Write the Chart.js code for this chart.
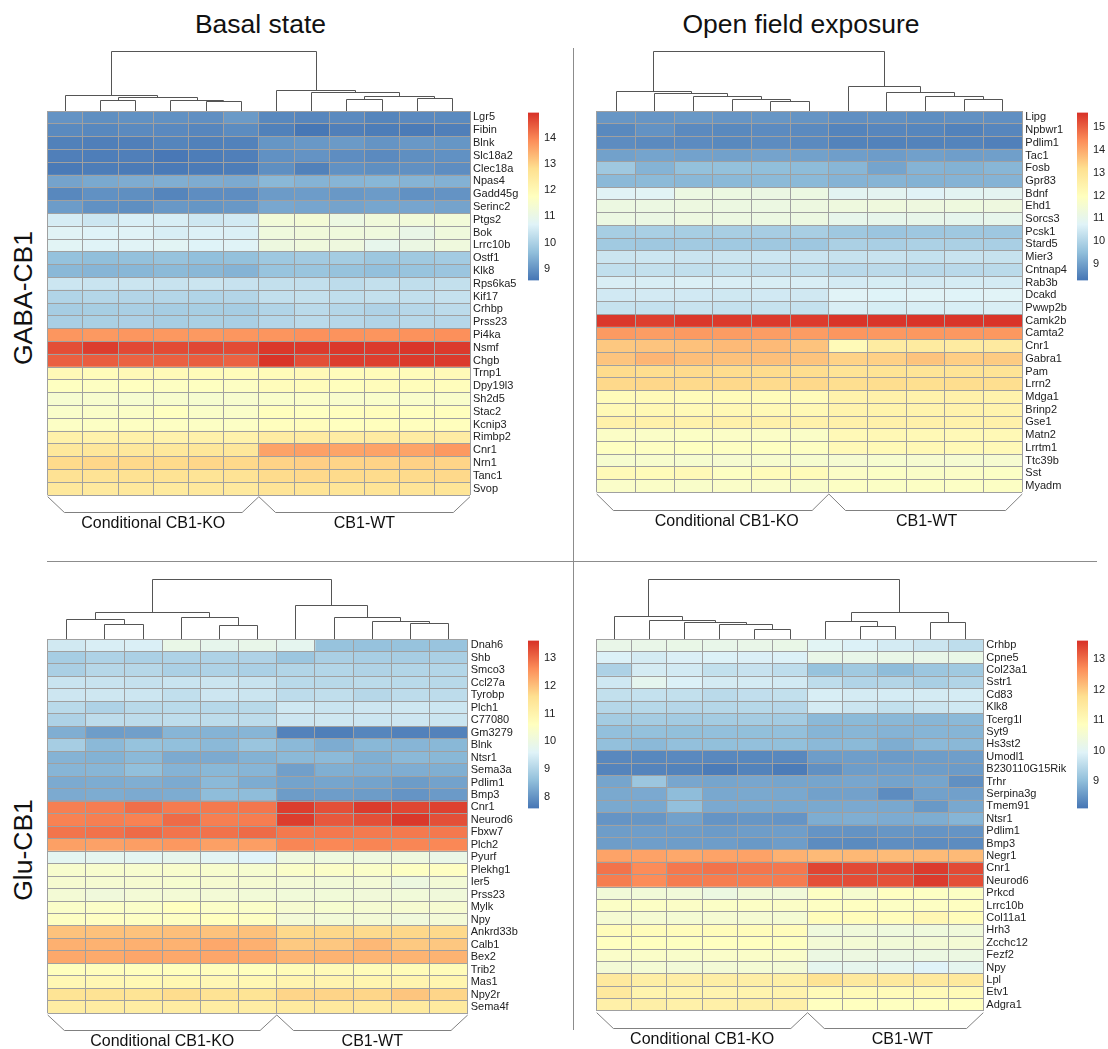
<!DOCTYPE html>
<html>
<head>
<meta charset="utf-8">
<title>CB1 expression heatmaps</title>
<script src="https://cdn.jsdelivr.net/npm/chart.js@4.4.1/dist/chart.umd.min.js"></script>
<style>
  html, body { margin: 0; padding: 0; background: #ffffff; }
  body { width: 1108px; height: 1049px; position: relative; overflow: hidden;
         font-family: "Liberation Sans", Arial, sans-serif; color: #111; }
  canvas { position: absolute; }
  .title { position: absolute; top: 11px; font-size: 26.5px; line-height: 1; white-space: nowrap;
           transform: translateX(-50%); }
  .side { position: absolute; font-size: 26.5px; line-height: 1; white-space: nowrap;
          transform: translate(-50%, -50%) rotate(-90deg); }
  .rule { position: absolute; background: #8c8c8c; }
</style>
</head>
<body>
<div class="title" style="left:260.5px">Basal state</div>
<div class="title" style="left:801px">Open field exposure</div>
<div class="side" style="left:23px; top:298px">GABA-CB1</div>
<div class="side" style="left:23px; top:850px">Glu-CB1</div>
<div class="rule" style="left:573px; top:48px; width:1px; height:982px"></div>
<div class="rule" style="left:47px; top:561px; width:1050px; height:1px"></div>

<canvas id="hm-tl"></canvas><canvas id="cb-tl"></canvas>
<canvas id="hm-tr"></canvas><canvas id="cb-tr"></canvas>
<canvas id="hm-bl"></canvas><canvas id="cb-bl"></canvas>
<canvas id="hm-br"></canvas><canvas id="cb-br"></canvas>

<script>
// ---------- shared ----------
const groupNames = ['Conditional CB1-KO', 'CB1-WT'];
const palette = ['#4575B4', '#91BFDB', '#E0F3F8', '#FFFFBF', '#FEE090', '#FC8D59', '#D73027'];

// ---------- GABA-CB1, basal state ----------
const basalGabaGenes = ['Lgr5','Fibin','Blnk','Slc18a2','Clec18a','Npas4','Gadd45g','Serinc2','Ptgs2','Bok',
  'Lrrc10b','Ostf1','Klk8','Rps6ka5','Kif17','Crhbp','Prss23','Pi4ka','Nsmf','Chgb',
  'Trnp1','Dpy19l3','Sh2d5','Stac2','Kcnip3','Rimbp2','Cnr1','Nrn1','Tanc1','Svop'];
const basalGabaGroupSizes = [6, 6];
const basalGabaValues = [
  [8.98, 8.92, 8.95, 8.95, 8.93, 9.08, 8.82, 8.80, 8.86, 8.78, 8.84, 8.85],
  [8.85, 8.82, 8.86, 8.84, 8.80, 8.88, 8.72, 8.58, 8.70, 8.66, 8.64, 8.70],
  [8.72, 8.70, 8.70, 8.78, 8.72, 8.74, 9.02, 9.05, 9.08, 9.00, 9.05, 9.02],
  [8.70, 8.68, 8.70, 8.60, 8.66, 8.70, 8.95, 8.98, 8.90, 8.86, 8.92, 8.95],
  [8.62, 8.66, 8.64, 8.62, 8.64, 8.66, 8.92, 8.72, 8.95, 8.92, 8.94, 8.90],
  [9.22, 9.30, 9.35, 9.38, 9.35, 9.32, 9.52, 9.45, 9.48, 9.50, 9.46, 9.42],
  [8.82, 8.95, 8.92, 8.78, 8.90, 8.90, 9.10, 9.12, 9.05, 9.10, 8.95, 8.98],
  [9.12, 8.95, 8.92, 9.05, 9.02, 9.05, 9.28, 9.25, 9.22, 9.26, 9.25, 9.22],
  [10.55, 10.42, 10.60, 10.58, 10.45, 10.50, 11.30, 11.35, 11.10, 11.25, 11.28, 11.30],
  [10.72, 10.68, 10.70, 10.58, 10.65, 10.62, 11.20, 11.25, 11.22, 11.20, 11.00, 11.22],
  [10.75, 10.70, 10.72, 10.76, 10.68, 10.70, 11.15, 11.22, 11.18, 10.92, 11.08, 11.20],
  [9.68, 9.62, 9.66, 9.70, 9.64, 9.66, 9.80, 9.85, 9.88, 9.78, 9.82, 9.86],
  [9.52, 9.48, 9.50, 9.55, 9.52, 9.45, 9.72, 9.74, 9.70, 9.65, 9.72, 9.75],
  [10.42, 10.38, 10.40, 10.36, 10.40, 10.35, 10.30, 10.28, 10.22, 10.30, 10.26, 10.30],
  [10.05, 10.10, 10.08, 10.10, 10.06, 10.08, 10.28, 10.30, 10.26, 10.30, 10.28, 10.32],
  [9.90, 9.92, 9.95, 9.90, 9.92, 9.90, 10.05, 10.18, 10.10, 10.02, 10.12, 10.20],
  [9.95, 9.96, 9.98, 9.92, 9.96, 9.94, 10.10, 10.18, 10.12, 10.06, 10.14, 10.12],
  [13.78, 13.75, 13.78, 13.76, 13.75, 13.78, 13.80, 13.85, 13.82, 13.80, 13.84, 13.86],
  [14.62, 14.82, 14.68, 14.66, 14.70, 14.66, 14.88, 14.86, 14.88, 14.84, 14.90, 14.86],
  [14.42, 14.45, 14.40, 14.42, 14.45, 14.40, 14.92, 14.62, 14.82, 14.80, 14.86, 14.84],
  [11.95, 11.88, 11.95, 11.92, 11.90, 11.88, 11.90, 11.95, 11.86, 11.90, 11.88, 11.92],
  [11.72, 11.70, 11.75, 11.70, 11.72, 11.68, 11.85, 11.88, 11.80, 11.86, 11.84, 11.82],
  [11.45, 11.48, 11.45, 11.50, 11.46, 11.48, 11.55, 11.58, 11.52, 11.56, 11.54, 11.55],
  [11.55, 11.60, 11.62, 11.75, 11.60, 11.58, 11.80, 11.72, 11.78, 11.82, 11.76, 11.80],
  [11.65, 11.66, 11.70, 11.68, 11.66, 11.65, 11.78, 11.82, 11.76, 11.80, 11.78, 11.80],
  [12.25, 12.22, 12.25, 12.20, 12.24, 12.22, 12.42, 12.45, 12.40, 12.45, 12.42, 12.40],
  [12.55, 12.58, 12.56, 12.55, 12.60, 12.58, 13.62, 13.65, 13.60, 13.62, 13.60, 13.75],
  [12.90, 12.95, 12.92, 12.90, 12.95, 12.92, 13.00, 13.05, 12.98, 13.00, 13.02, 12.98],
  [12.75, 12.72, 12.76, 12.74, 12.70, 12.72, 12.88, 12.92, 12.90, 12.88, 12.90, 12.92],
  [12.55, 12.52, 12.56, 12.50, 12.55, 12.52, 12.68, 12.70, 12.66, 12.70, 12.68, 12.66]
];
const basalGabaRange = [8.55, 14.97];
const basalGabaTicks = [9, 10, 11, 12, 13, 14];
// sample clustering: [left, right, height]; negative = sample number, positive = earlier merge
const basalGabaTree = [
  [-2, -3, 1.03], [-5, -6, 0.93], [-4, 2, 1.10], [1, 3, 1.37], [-1, 4, 1.60],
  [-9, -10, 1.17], [-11, -12, 1.27], [6, 7, 1.50], [-8, 8, 1.87], [-7, 9, 2.10],
  [5, 10, 6.00]
];

// ---------- GABA-CB1, open field exposure ----------
const openGabaGenes = ['Lipg','Npbwr1','Pdlim1','Tac1','Fosb','Gpr83','Bdnf','Ehd1','Sorcs3','Pcsk1',
  'Stard5','Mier3','Cntnap4','Rab3b','Dcakd','Pwwp2b','Camk2b','Camta2','Cnr1','Gabra1',
  'Pam','Lrrn2','Mdga1','Brinp2','Gse1','Matn2','Lrrtm1','Ttc39b','Sst','Myadm'];
const openGabaGroupSizes = [6, 5];
const openGabaValues = [
  [8.82, 8.80, 8.85, 8.80, 8.82, 8.78, 8.70, 8.72, 8.68, 8.72, 8.70],
  [8.60, 8.75, 8.62, 8.60, 8.64, 8.62, 8.52, 8.56, 8.55, 8.48, 8.56],
  [8.66, 8.62, 8.64, 8.60, 8.66, 8.62, 8.50, 8.48, 8.50, 8.52, 8.46],
  [9.00, 9.05, 9.02, 9.00, 9.04, 9.00, 8.95, 8.92, 8.98, 8.95, 8.96],
  [9.72, 9.30, 9.55, 9.55, 9.50, 9.45, 9.35, 9.05, 9.30, 9.28, 9.35],
  [9.40, 9.42, 9.38, 9.40, 9.42, 9.40, 9.30, 9.32, 9.28, 9.30, 9.30],
  [10.78, 10.80, 11.20, 11.22, 11.18, 11.20, 10.85, 10.88, 10.75, 10.85, 10.88],
  [11.22, 11.20, 11.25, 11.22, 11.20, 11.24, 11.30, 11.32, 11.28, 11.30, 11.28],
  [11.20, 11.18, 11.24, 11.22, 11.20, 11.22, 11.02, 11.00, 11.05, 10.98, 11.02],
  [9.85, 9.88, 9.85, 9.86, 9.84, 9.86, 9.72, 9.65, 9.70, 9.72, 9.70],
  [9.75, 9.72, 9.76, 9.74, 9.72, 9.70, 9.90, 9.88, 9.92, 9.90, 9.88],
  [10.40, 10.42, 10.38, 10.40, 10.42, 10.38, 10.32, 10.35, 10.30, 10.35, 10.32],
  [10.25, 10.28, 10.25, 10.30, 10.26, 10.25, 10.12, 10.15, 10.10, 10.12, 10.14],
  [10.62, 10.60, 10.65, 10.62, 10.60, 10.62, 10.55, 10.58, 10.52, 10.56, 10.55],
  [10.50, 10.52, 10.50, 10.46, 10.50, 10.48, 10.75, 10.72, 10.76, 10.74, 10.75],
  [10.32, 10.30, 10.35, 10.30, 10.32, 10.30, 10.62, 10.58, 10.60, 10.60, 10.62],
  [15.55, 15.45, 15.55, 15.52, 15.52, 15.50, 15.60, 15.58, 15.60, 15.58, 15.60],
  [14.22, 14.18, 14.22, 14.20, 14.18, 14.20, 14.28, 14.25, 14.26, 14.25, 14.26],
  [13.55, 13.60, 13.65, 13.75, 13.75, 13.62, 12.15, 12.72, 12.76, 12.74, 12.78],
  [13.60, 13.82, 13.70, 13.65, 13.68, 13.62, 13.40, 13.42, 13.62, 13.45, 13.50],
  [13.25, 13.22, 13.26, 13.24, 13.25, 13.22, 13.02, 13.05, 13.00, 13.02, 13.04],
  [13.30, 13.32, 13.28, 13.30, 13.26, 13.30, 13.20, 13.22, 13.18, 13.22, 13.20],
  [12.10, 12.15, 12.10, 12.12, 12.08, 12.10, 12.45, 12.50, 12.48, 12.50, 12.45],
  [12.20, 12.25, 12.18, 12.22, 12.20, 12.22, 12.42, 12.45, 12.44, 12.46, 12.42],
  [12.50, 12.52, 12.48, 12.50, 12.52, 12.48, 12.50, 12.52, 12.50, 12.48, 12.52],
  [11.80, 11.78, 11.82, 11.80, 11.80, 11.78, 12.18, 12.22, 12.20, 12.18, 12.20],
  [11.92, 11.90, 11.94, 11.90, 11.92, 11.90, 12.18, 12.20, 12.22, 12.20, 12.18],
  [11.62, 11.65, 11.62, 11.60, 11.64, 11.62, 11.58, 11.62, 11.60, 11.58, 11.60],
  [12.15, 12.12, 12.18, 11.90, 12.10, 12.12, 11.80, 11.82, 11.78, 11.80, 11.82],
  [11.75, 11.78, 11.74, 11.76, 11.75, 11.74, 11.85, 11.82, 11.86, 11.84, 11.85]
];
const openGabaRange = [8.27, 15.65];
const openGabaTicks = [9, 10, 11, 12, 13, 14, 15];
const openGabaTree = [
  [-5, -6, 0.93], [-4, 1, 1.17], [-3, 2, 1.50], [-2, 3, 1.77], [-1, 4, 1.93],
  [-10, -11, 1.17], [-9, 6, 1.43], [-8, 7, 1.83], [-7, 8, 2.43], [5, 9, 6.00]
];

// ---------- Glu-CB1, basal state ----------
const basalGluGenes = ['Dnah6','Shb','Smco3','Ccl27a','Tyrobp','Plch1','C77080','Gm3279','Blnk','Ntsr1',
  'Sema3a','Pdlim1','Bmp3','Cnr1','Neurod6','Fbxw7','Plch2','Pyurf','Plekhg1','Ier5',
  'Prss23','Mylk','Npy','Ankrd33b','Calb1','Bex2','Trib2','Mas1','Npy2r','Sema4f'];
const basalGluGroupSizes = [6, 5];
const basalGluValues = [
  [9.40, 9.50, 9.52, 9.90, 9.80, 9.86, 9.75, 8.66, 8.64, 8.66, 8.68],
  [8.85, 8.95, 8.92, 8.95, 8.95, 8.96, 8.72, 8.90, 8.88, 8.86, 8.90],
  [8.90, 9.05, 9.05, 8.92, 8.95, 8.92, 9.00, 9.02, 8.98, 9.00, 9.02],
  [9.30, 9.28, 9.25, 9.30, 9.32, 9.28, 9.10, 9.08, 9.12, 9.10, 9.08],
  [9.35, 9.36, 9.34, 9.20, 9.35, 9.32, 9.15, 9.18, 9.05, 9.15, 9.15],
  [9.10, 8.95, 9.08, 9.10, 9.06, 9.08, 9.38, 9.30, 9.35, 9.36, 9.34],
  [8.95, 9.15, 9.14, 9.16, 9.14, 9.15, 9.35, 9.36, 9.34, 9.35, 9.32],
  [8.35, 8.12, 8.15, 8.45, 8.42, 8.45, 7.75, 7.70, 7.80, 7.74, 7.75],
  [8.85, 8.50, 8.65, 8.60, 8.50, 8.70, 8.50, 8.32, 8.48, 8.45, 8.48],
  [8.42, 8.40, 8.50, 8.30, 8.30, 8.40, 8.50, 8.52, 8.36, 8.50, 8.48],
  [8.45, 8.46, 8.60, 8.42, 8.48, 8.45, 8.15, 8.36, 8.35, 8.34, 8.36],
  [8.30, 8.32, 8.35, 8.30, 8.50, 8.32, 8.20, 8.22, 8.20, 8.10, 8.18],
  [8.30, 8.32, 8.30, 8.32, 8.55, 8.55, 8.10, 8.12, 8.10, 8.00, 8.08],
  [12.78, 12.80, 12.95, 12.82, 12.85, 12.88, 13.50, 13.30, 13.52, 13.40, 13.45],
  [12.75, 12.78, 12.75, 13.00, 12.78, 12.80, 13.50, 13.20, 13.30, 13.55, 13.30],
  [12.90, 12.92, 13.00, 12.90, 12.92, 13.00, 12.85, 12.86, 12.84, 12.85, 12.86],
  [12.40, 12.38, 12.42, 12.50, 12.40, 12.42, 12.70, 12.68, 12.72, 12.70, 12.68],
  [9.72, 9.75, 9.72, 9.80, 9.68, 9.60, 10.05, 10.06, 10.04, 10.05, 9.92],
  [10.35, 10.36, 10.34, 10.38, 10.35, 10.32, 10.45, 10.46, 10.44, 10.55, 10.56],
  [10.30, 10.28, 10.30, 10.32, 10.30, 10.28, 10.20, 10.18, 10.20, 10.02, 10.22],
  [10.22, 10.10, 10.20, 10.22, 10.20, 10.18, 10.15, 10.16, 10.14, 10.15, 10.12],
  [10.45, 10.46, 10.44, 10.60, 10.46, 10.45, 10.30, 10.32, 10.28, 10.30, 10.30],
  [10.55, 10.56, 10.54, 10.55, 10.62, 10.55, 10.20, 10.18, 10.22, 10.10, 10.20],
  [11.98, 12.00, 11.98, 12.02, 11.98, 12.00, 11.70, 11.72, 11.68, 11.72, 11.70],
  [12.20, 12.18, 12.20, 12.18, 12.30, 12.20, 11.90, 11.92, 12.10, 11.90, 11.92],
  [12.30, 12.28, 12.32, 12.30, 12.32, 12.30, 12.15, 12.16, 12.14, 12.15, 12.16],
  [10.65, 10.66, 10.64, 10.65, 10.66, 10.64, 10.75, 10.76, 10.74, 10.75, 10.74],
  [10.85, 10.86, 10.84, 10.88, 10.85, 10.86, 10.95, 10.96, 10.94, 10.95, 10.94],
  [11.50, 11.52, 11.50, 11.65, 11.52, 11.50, 11.75, 11.76, 11.74, 11.95, 11.75],
  [11.20, 11.22, 11.20, 11.22, 11.20, 11.18, 11.30, 11.32, 11.28, 11.30, 11.30]
];
const basalGluRange = [7.57, 13.64];
const basalGluTicks = [8, 9, 10, 11, 12, 13];
const basalGluTree = [
  [-2, -3, 1.50], [-1, 1, 1.97], [-5, -6, 1.40], [-4, 3, 2.13], [2, 4, 2.63],
  [-10, -11, 1.57], [-9, 6, 1.73], [-8, 7, 2.17], [-7, 8, 3.40], [5, 9, 6.00]
];

// ---------- Glu-CB1, open field exposure ----------
const openGluGenes = ['Crhbp','Cpne5','Col23a1','Sstr1','Cd83','Klk8','Tcerg1l','Syt9','Hs3st2','Umodl1',
  'B230110G15Rik','Trhr','Serpina3g','Tmem91','Ntsr1','Pdlim1','Bmp3','Negr1','Cnr1','Neurod6',
  'Prkcd','Lrrc10b','Col11a1','Hrh3','Zcchc12','Fezf2','Npy','Lpl','Etv1','Adgra1'];
const openGluGroupSizes = [6, 5];
const openGluValues = [
  [10.20, 10.20, 10.22, 10.18, 10.20, 10.22, 10.00, 9.90, 9.80, 9.70, 9.55],
  [9.90, 9.80, 9.88, 9.90, 9.88, 9.90, 10.20, 10.18, 10.22, 10.20, 10.22],
  [9.35, 9.80, 9.78, 9.60, 9.65, 9.55, 9.10, 9.20, 9.00, 9.15, 9.20],
  [9.75, 10.10, 9.90, 9.80, 9.80, 9.78, 9.55, 9.40, 9.42, 9.30, 9.40],
  [9.60, 9.62, 9.60, 9.50, 9.58, 9.60, 9.85, 9.80, 9.82, 9.80, 9.82],
  [9.45, 9.46, 9.44, 9.45, 9.46, 9.44, 9.80, 9.70, 9.60, 9.70, 9.75],
  [9.25, 9.26, 9.24, 9.25, 9.26, 9.24, 8.95, 8.96, 8.94, 8.92, 8.95],
  [9.05, 9.06, 9.04, 9.05, 9.04, 9.05, 8.90, 8.92, 8.88, 8.90, 8.90],
  [9.05, 8.95, 9.05, 9.04, 9.05, 9.04, 8.95, 8.96, 8.80, 8.95, 8.94],
  [8.35, 8.34, 8.36, 8.35, 8.34, 8.35, 8.60, 8.62, 8.58, 8.60, 8.62],
  [8.30, 8.30, 8.28, 8.20, 8.28, 8.20, 8.45, 8.60, 8.62, 8.60, 8.58],
  [8.70, 9.15, 8.72, 8.70, 8.72, 8.70, 8.70, 8.72, 8.68, 8.70, 8.45],
  [8.75, 8.76, 9.00, 8.74, 8.75, 8.74, 8.65, 8.66, 8.40, 8.65, 8.64],
  [8.75, 8.74, 9.05, 8.76, 8.75, 8.74, 8.75, 8.76, 8.74, 8.55, 8.74],
  [8.50, 8.52, 8.65, 8.50, 8.52, 8.50, 8.80, 8.82, 8.78, 8.80, 8.90],
  [8.60, 8.62, 8.60, 8.58, 8.60, 8.62, 8.50, 8.48, 8.52, 8.50, 8.50],
  [8.60, 8.62, 8.60, 8.60, 8.55, 8.60, 8.40, 8.38, 8.42, 8.40, 8.40],
  [12.45, 12.46, 12.40, 12.45, 12.46, 12.30, 12.20, 12.22, 12.18, 12.20, 12.20],
  [12.95, 12.70, 12.90, 12.95, 12.92, 12.90, 13.40, 13.35, 13.38, 13.50, 13.35],
  [12.85, 12.70, 12.86, 12.85, 12.84, 12.86, 13.30, 13.32, 13.28, 13.50, 13.30],
  [10.45, 10.46, 10.44, 10.30, 10.45, 10.44, 10.80, 10.60, 10.82, 10.80, 10.78],
  [10.75, 10.76, 10.74, 10.75, 10.76, 10.74, 10.80, 10.82, 10.78, 10.80, 10.82],
  [10.55, 10.56, 10.54, 10.55, 10.56, 10.54, 10.95, 10.96, 10.94, 11.10, 10.95],
  [10.95, 10.96, 10.94, 10.95, 10.96, 10.94, 10.40, 10.42, 10.38, 10.40, 10.42],
  [10.85, 10.86, 10.84, 10.85, 10.86, 10.84, 10.50, 10.52, 10.48, 10.50, 10.52],
  [10.70, 10.72, 10.68, 10.70, 10.72, 10.70, 10.30, 10.32, 10.28, 10.30, 10.30],
  [10.50, 10.52, 10.48, 10.50, 10.52, 10.50, 10.10, 10.12, 10.08, 9.95, 10.10],
  [11.50, 11.36, 11.35, 11.36, 11.35, 11.34, 11.70, 11.50, 11.52, 11.50, 11.52],
  [11.50, 11.20, 11.22, 11.18, 11.20, 11.22, 11.00, 11.02, 10.98, 11.00, 11.02],
  [11.30, 11.32, 11.28, 11.30, 11.32, 11.30, 10.85, 10.86, 10.84, 10.85, 10.86]
];
const openGluRange = [8.11, 13.61];
const openGluTicks = [9, 10, 11, 12, 13];
const openGluTree = [
  [-5, -6, 1.00], [-4, 1, 1.47], [-3, 2, 1.67], [-2, 3, 1.83], [-1, 4, 2.23],
  [-8, -9, 1.30], [-7, 6, 1.73], [-10, -11, 1.67], [7, 8, 2.63], [5, 9, 6.00]
];

// ---------- colour mapping ----------
const FONT = '"Liberation Sans", Arial, Helvetica, sans-serif';
Chart.defaults.font.family = FONT;

function hexRgb(h) {
  const n = parseInt(h.slice(1), 16);
  return [(n >> 16) & 255, (n >> 8) & 255, n & 255];
}
const paletteRgb = palette.map(hexRgb);
function cellColor(v, lo, hi) {
  let t = (v - lo) / (hi - lo);
  t = Math.max(0, Math.min(1, t)) * (palette.length - 1);
  const i = Math.min(Math.floor(t), palette.length - 2);
  const f = t - i;
  const a = paletteRgb[i], b = paletteRgb[i + 1];
  const c = a.map((x, k) => Math.round(x + (b[k] - x) * f));
  return `rgb(${c[0]},${c[1]},${c[2]})`;
}

const crisp = v => Math.round(v - 0.5) + 0.5;

// draws the sample dendrogram above the cells and the group brackets beneath
const treeAndGroups = {
  id: 'treeAndGroups',
  afterDraw(chart, args, opts) {
    const ctx = chart.ctx, xs = chart.scales.x, area = chart.chartArea;
    ctx.save();
    const tree = opts.tree;
    const unit = opts.treeHeight / tree[tree.length - 1][2];
    const yOf = h => area.top - h * unit;
    const leafX = n => xs.getPixelForValue(n - 0.5);
    const nodes = [];
    ctx.strokeStyle = '#555555';
    ctx.lineWidth = 1;
    ctx.beginPath();
    tree.forEach(([a, b, h]) => {
      const pa = a < 0 ? { x: leafX(-a), h: 0 } : nodes[a - 1];
      const pb = b < 0 ? { x: leafX(-b), h: 0 } : nodes[b - 1];
      const y = crisp(yOf(h));
      ctx.moveTo(crisp(pa.x), yOf(pa.h));
      ctx.lineTo(crisp(pa.x), y);
      ctx.lineTo(crisp(pb.x), y);
      ctx.lineTo(crisp(pb.x), yOf(pb.h));
      nodes.push({ x: (pa.x + pb.x) / 2, h });
    });
    ctx.stroke();

    // group brackets and captions
    ctx.strokeStyle = '#808080';
    ctx.fillStyle = '#111111';
    ctx.font = '16px ' + FONT;
    ctx.textAlign = 'center';
    ctx.textBaseline = 'middle';
    const yT = area.bottom + 1.7, yB = crisp(area.bottom + 17.7), d = 16.7;
    let start = 0;
    opts.groups.forEach((n, gi) => {
      const x0 = xs.getPixelForValue(start), x1 = xs.getPixelForValue(start + n);
      ctx.beginPath();
      ctx.moveTo(x0, yT);
      ctx.lineTo(x0 + d, yB);
      ctx.lineTo(x1 - d, yB);
      ctx.lineTo(x1, yT);
      ctx.stroke();
      ctx.fillText(groupNames[gi], (x0 + x1) / 2 + opts.captionShift[gi], yB + 11.5);
      start += n;
    });
    ctx.restore();
  }
};

function heatmap(id, genes, values, groups, range, tree, box) {
  const canvas = document.getElementById(id);
  canvas.width = box.cw; canvas.height = box.ch;
  canvas.style.left = box.cx + 'px'; canvas.style.top = box.cy + 'px';
  const ncol = values[0].length;
  const [lo, hi] = range;
  const datasets = [];
  for (let j = 0; j < ncol; j++) {
    datasets.push({
      label: 'sample ' + (j + 1),
      data: genes.map(() => 1),
      backgroundColor: values.map(row => cellColor(row[j], lo, hi)),
      borderWidth: 0,
      barPercentage: 1,
      categoryPercentage: 1
    });
  }
  const axisW = box.cx + box.cw - box.r;
  return new Chart(canvas, {
    type: 'bar',
    data: { labels: genes, datasets },
    options: {
      indexAxis: 'y',
      responsive: false,
      animation: false,
      events: [],
      layout: { padding: { left: box.l - box.cx, top: box.t - box.cy, right: 0, bottom: box.cy + box.ch - box.b } },
      plugins: {
        legend: { display: false },
        tooltip: { enabled: false },
        treeAndGroups: { tree, groups, treeHeight: 60, captionShift: box.shift }
      },
      scales: {
        x: {
          type: 'linear', stacked: true, min: 0, max: ncol, position: 'bottom',
          ticks: { display: false, stepSize: 1 },
          grid: { color: '#a0a0a0', lineWidth: 1, drawTicks: false, z: 1 },
          border: { display: false },
          afterFit: s => { s.height = 0; }
        },
        y: {
          type: 'category', stacked: true, position: 'right', offset: true,
          ticks: { font: { size: 11, family: FONT }, color: '#222222', padding: 3, autoSkip: false },
          grid: { color: '#a0a0a0', lineWidth: 1, drawTicks: false, offset: true, z: 1 },
          border: { display: false },
          afterFit: s => { s.width = axisW; }
        }
      }
    },
    plugins: [treeAndGroups]
  });
}

function colorKey(id, range, ticks, bar) {
  const canvas = document.getElementById(id);
  const pad = 10, axisW = 30;
  canvas.width = bar.w + axisW; canvas.height = bar.h + 2 * pad;
  canvas.style.left = bar.x + 'px'; canvas.style.top = (bar.y - pad) + 'px';
  const [lo, hi] = range;
  return new Chart(canvas, {
    type: 'bar',
    data: {
      labels: [''],
      datasets: [{
        data: [[lo, hi]],
        borderWidth: 0,
        barPercentage: 1,
        categoryPercentage: 1,
        backgroundColor: c => {
          const a = c.chart.chartArea;
          if (!a) return palette[3];
          const g = c.chart.ctx.createLinearGradient(0, a.bottom, 0, a.top);
          palette.forEach((col, i) => g.addColorStop(i / (palette.length - 1), col));
          return g;
        }
      }]
    },
    options: {
      responsive: false,
      animation: false,
      events: [],
      layout: { padding: { top: pad, bottom: pad, left: 0, right: 0 } },
      plugins: { legend: { display: false }, tooltip: { enabled: false } },
      scales: {
        x: { display: false },
        y: {
          type: 'linear', min: lo, max: hi, position: 'right',
          grid: { display: false, drawTicks: false },
          border: { display: false },
          ticks: { font: { size: 11, family: FONT }, color: '#222222', padding: 5 },
          afterBuildTicks: s => { s.ticks = ticks.map(v => ({ value: v })); },
          afterFit: s => { s.width = axisW; }
        }
      }
    }
  });
}

// ---------- panels ----------
heatmap('hm-tl', basalGabaGenes, basalGabaValues, basalGabaGroupSizes, basalGabaRange, basalGabaTree,
  { cx: 0, cy: 40, cw: 570, ch: 500, l: 47.7, t: 111, r: 470, b: 495, shift: [0, 0] });
colorKey('cb-tl', basalGabaRange, basalGabaTicks, { x: 528, y: 111, w: 11, h: 171 });

heatmap('hm-tr', openGabaGenes, openGabaValues, openGabaGroupSizes, openGabaRange, openGabaTree,
  { cx: 550, cy: 40, cw: 558, ch: 500, l: 596.7, t: 111, r: 1022.3, b: 492.3, shift: [14, 1] });
colorKey('cb-tr', openGabaRange, openGabaTicks, { x: 1077, y: 111, w: 11, h: 171 });

heatmap('hm-bl', basalGluGenes, basalGluValues, basalGluGroupSizes, basalGluRange, basalGluTree,
  { cx: 0, cy: 565, cw: 570, ch: 484, l: 47.7, t: 639, r: 467.7, b: 1013.3, shift: [0, 0] });
colorKey('cb-bl', basalGluRange, basalGluTicks, { x: 528, y: 639, w: 11, h: 171 });

heatmap('hm-br', openGluGenes, openGluValues, openGluGroupSizes, openGluRange, openGluTree,
  { cx: 550, cy: 565, cw: 558, ch: 484, l: 596.7, t: 639, r: 983.3, b: 1011, shift: [0, 7] });
colorKey('cb-br', openGluRange, openGluTicks, { x: 1077, y: 639, w: 11, h: 171 });
</script>
</body>
</html>
